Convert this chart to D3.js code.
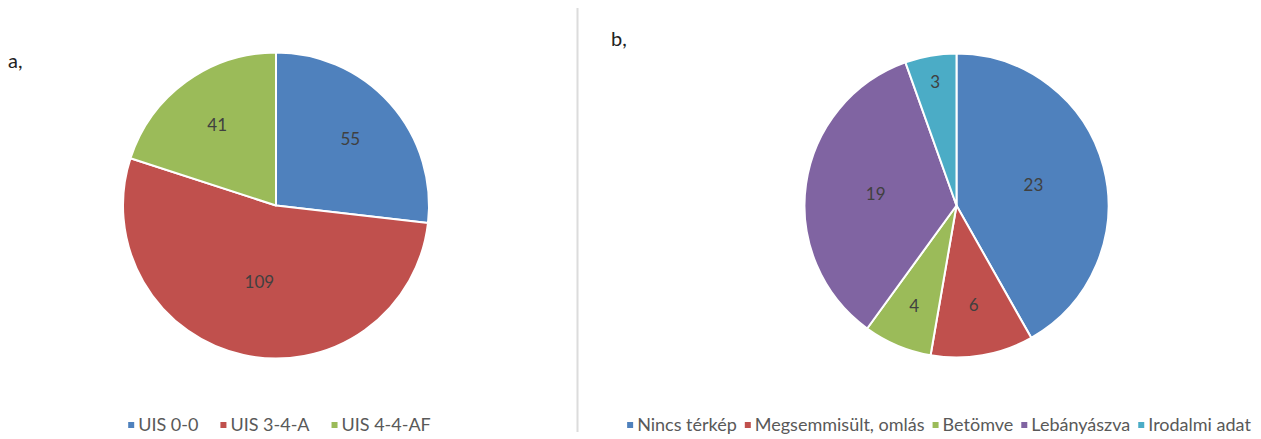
<!DOCTYPE html>
<html>
<head>
<meta charset="utf-8">
<script src="https://cdn.jsdelivr.net/npm/d3@7"></script>
<style>
  html, body { margin: 0; padding: 0; background: #fff; }
  svg { display: block; }
  text { font-family: Lato, "Open Sans", sans-serif; }
</style>
</head>
<body>
<svg id="chart" width="1261" height="439"></svg>
<script>
// Panel a: UIS categories
const categoriesA = ["UIS 0-0", "UIS 3-4-A", "UIS 4-4-AF"];
const valuesA = [55, 109, 41];
const colorsA = ["#4F81BD", "#C0504D", "#9BBB59"];

// Panel b: status categories
const categoriesB = ["Nincs térkép", "Megsemmisült, omlás", "Betömve", "Lebányászva", "Irodalmi adat"];
const valuesB = [23, 6, 4, 19, 3];
const colorsB = ["#4F81BD", "#C0504D", "#9BBB59", "#8064A2", "#4BACC6"];

const panelLabels = ["a,", "b,"];

const svg = d3.select("#chart");

// divider between the two panels
svg.append("line")
  .attr("x1", 577.5).attr("x2", 577.5)
  .attr("y1", 8).attr("y2", 432)
  .attr("stroke", "#dcdcdc").attr("stroke-width", 2);

// label distance from centre (fraction of radius) depending on slice share
const labelFrac = d3.scaleLinear()
  .domain([0.05, 0.075, 0.11, 0.27, 0.35, 0.55])
  .range([0.85, 0.70, 0.66, 0.65, 0.53, 0.51])
  .clamp(true);

function drawPie(cfg) {
  const g = svg.append("g").attr("transform", `translate(${cfg.cx},${cfg.cy})`);
  const total = d3.sum(cfg.values);
  const pie = d3.pie().sort(null).value(d => d);
  const arcs = pie(cfg.values);
  const arc = d3.arc().innerRadius(0).outerRadius(cfg.r);

  g.selectAll("path.slice")
    .data(arcs)
    .join("path")
    .attr("class", "slice")
    .attr("d", arc)
    .attr("fill", (d, i) => cfg.colors[i])
    .attr("stroke", "#fff")
    .attr("stroke-width", 2)
    .attr("stroke-linejoin", "round");

  g.selectAll("text.val")
    .data(arcs)
    .join("text")
    .attr("class", "val")
    .attr("transform", d => {
      const a = (d.startAngle + d.endAngle) / 2;
      const rr = cfg.r * labelFrac(d.value / total);
      return `translate(${Math.sin(a) * rr},${-Math.cos(a) * rr})`;
    })
    .attr("text-anchor", "middle")
    .attr("dy", "0.36em")
    .attr("font-size", 17)
    .attr("fill", "#404040")
    .text(d => d.value);

  // legend, laid out left to right and centred on cfg.legendCx
  const lg = svg.append("g");
  const items = lg.selectAll("g.item")
    .data(cfg.categories)
    .join("g")
    .attr("class", "item");
  items.append("rect")
    .attr("width", 6).attr("height", 6)
    .attr("y", -3)
    .attr("fill", (d, i) => cfg.colors[i]);
  items.append("text")
    .attr("x", 10)
    .attr("dy", "0.35em")
    .attr("font-size", cfg.legendSize)
    .attr("fill", "#595959")
    .text(d => d);
  let x = 0;
  const offsets = [];
  items.each(function () {
    const w = 10 + d3.select(this).select("text").node().getComputedTextLength();
    offsets.push(x);
    x += w + cfg.legendGap;
  });
  const totalW = x - cfg.legendGap;
  const x0 = cfg.legendCx - totalW / 2;
  items.attr("transform", (d, i) => `translate(${x0 + offsets[i]},${cfg.legendY})`);
}

drawPie({
  cx: 276, cy: 205.5, r: 153,
  values: valuesA, colors: colorsA, categories: categoriesA,
  legendCx: 279.5, legendY: 425, legendGap: 22, legendSize: 18
});

drawPie({
  cx: 956.5, cy: 205.5, r: 152,
  values: valuesB, colors: colorsB, categories: categoriesB,
  legendCx: 939, legendY: 425, legendGap: 8, legendSize: 18
});

// panel letters
svg.append("text").attr("x", 8).attr("y", 68)
  .attr("font-size", 20).attr("fill", "#222").text(panelLabels[0]);
svg.append("text").attr("x", 611).attr("y", 46)
  .attr("font-size", 20).attr("fill", "#222").text(panelLabels[1]);
</script>
</body>
</html>
